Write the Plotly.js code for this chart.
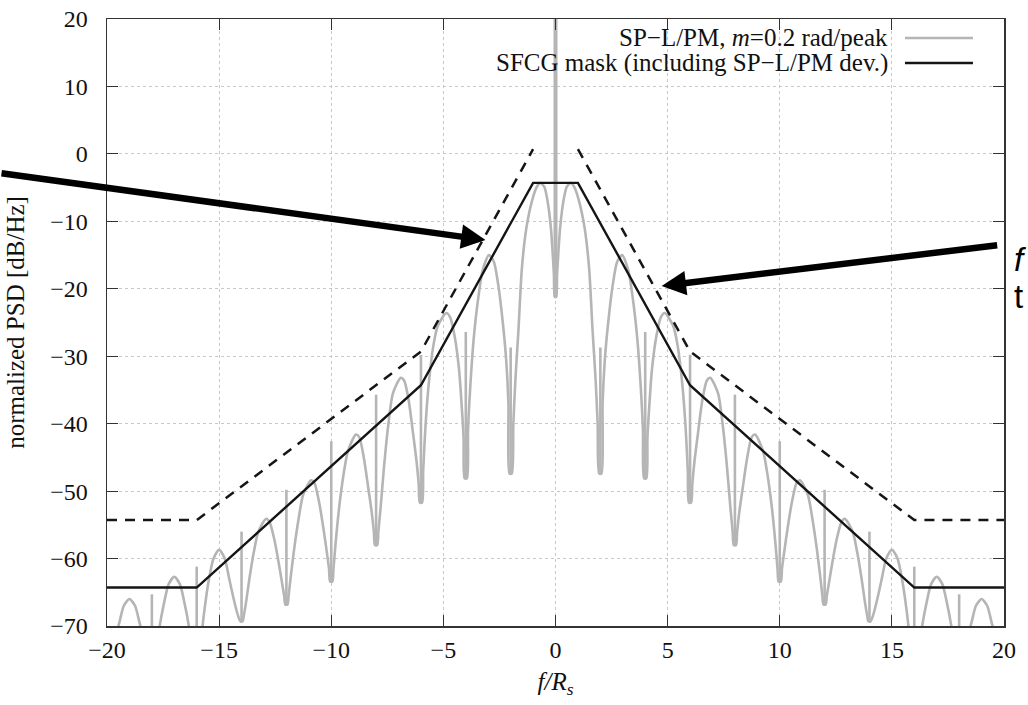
<!DOCTYPE html>
<html>
<head>
<meta charset="utf-8">
<script src="https://cdn.plot.ly/plotly-3.0.1.min.js"></script>
<style>
html,body{margin:0;padding:0;background:#fff;}
#chart{width:1028px;height:705px;}
#chart .xtick text, #chart .ytick text {font-family: 'Liberation Serif', serif !important;}
</style>
</head>
<body>
<div id="chart"></div>
<script>
// ---- data ----
// SP-L/PM PSD (grey), continuous part
var psdX = [
  -19.95,-19.9,-19.8,-19.65,-19.45,-19.25,-19.0,-18.75,-18.55,-18.35,-18.2,-18.1,-18.05,
  -17.95,-17.9,-17.8,-17.65,-17.45,-17.25,-17.0,-16.75,-16.55,-16.35,-16.2,-16.1,-16.05,
  -15.95,-15.9,-15.8,-15.65,-15.45,-15.25,-15.0,-14.75,-14.55,-14.35,-14.2,-14.1,-14.05,
  -13.95,-13.9,-13.8,-13.65,-13.45,-13.25,-12.9,-12.75,-12.55,-12.35,-12.2,-12.1,-12.05,
  -11.95,-11.9,-11.8,-11.65,-11.45,-11.25,-10.9,-10.75,-10.55,-10.35,-10.2,-10.1,-10.05,
  -9.95,-9.9,-9.8,-9.65,-9.45,-9.25,-8.9,-8.75,-8.55,-8.35,-8.2,-8.1,-8.05,
  -7.95,-7.9,-7.8,-7.65,-7.45,-7.25,-6.9,-6.75,-6.55,-6.35,-6.2,-6.1,-6.05,
  -5.95,-5.9,-5.8,-5.65,-5.45,-5.25,-4.87,-4.7,-4.5,-4.3,-4.2,-4.1,-4.05,
  -3.95,-3.9,-3.8,-3.65,-3.45,-3.25,-2.97,-2.75,-2.55,-2.35,-2.2,-2.1,-2.05,
  -1.95,-1.88,-1.78,-1.65,-1.5,-1.3,-1.05,-0.85,-0.68,-0.5,-0.38,-0.28,-0.2,-0.13,-0.07,-0.03,
  0.03,0.07,0.13,0.2,0.28,0.38,0.5,0.68,0.85,1.05,1.3,1.5,1.65,1.78,1.88,1.95,
  2.05,2.1,2.2,2.35,2.55,2.75,2.97,3.25,3.45,3.65,3.8,3.9,3.95,
  4.05,4.1,4.2,4.3,4.5,4.7,4.87,5.25,5.45,5.65,5.8,5.9,5.95,
  6.05,6.1,6.2,6.35,6.55,6.75,6.9,7.25,7.45,7.65,7.8,7.9,7.95,
  8.05,8.1,8.2,8.35,8.55,8.75,8.9,9.25,9.45,9.65,9.8,9.9,9.95,
  10.05,10.1,10.2,10.35,10.55,10.75,10.9,11.25,11.45,11.65,11.8,11.9,11.95,
  12.05,12.1,12.2,12.35,12.55,12.75,12.9,13.25,13.45,13.65,13.8,13.9,13.95,
  14.05,14.1,14.2,14.35,14.55,14.75,15.0,15.25,15.45,15.65,15.8,15.9,15.95,
  16.05,16.1,16.2,16.35,16.55,16.75,17.0,17.25,17.45,17.65,17.8,17.9,17.95,
  18.05,18.1,18.2,18.35,18.55,18.75,19.0,19.25,19.45,19.65,19.8,19.9,19.95
];
var psdY = [
  -80,-79,-76,-72,-69.5,-67,-66.0,-67,-69.5,-72,-76,-79,-80,
  -78,-77,-74,-70,-66.5,-63.8,-62.7,-63.8,-66.5,-70,-74,-77,-78,
  -78,-76,-72,-67.5,-63,-60,-58.7,-60,-63,-66,-68,-69,-69.3,
  -69.3,-68.5,-66.5,-63,-59,-56,-54.1,-54.6,-57,-60.5,-63.5,-65.5,-66.8,
  -66.8,-65.5,-62.5,-58.5,-54,-50.5,-48.4,-48.8,-51.5,-55.5,-59,-61.5,-63.4,
  -63.4,-61.5,-57.5,-52.5,-47.5,-44,-41.6,-42,-45,-49.5,-53,-56,-58,
  -58,-56,-52.5,-46.5,-40,-35.5,-33.2,-33.6,-36.5,-41.5,-45.5,-49,-51.7,
  -51.7,-47,-40.5,-34,-28.5,-25.5,-23.6,-24.2,-27,-32,-36.5,-42,-48.1,
  -48.1,-41,-34.5,-27.5,-21.5,-17.3,-15,-16,-19.5,-25,-30.5,-37,-47.4,
  -47.4,-40,-33,-26,-17,-11,-7,-5,-4.3,-4.9,-6.5,-8.7,-11.2,-14.5,-18,-21.2,
  -21.2,-18,-14.5,-11.2,-8.7,-6.5,-4.9,-4.3,-5,-7,-11,-17,-26,-33,-40,-47.4,
  -47.4,-37,-30.5,-25,-19.5,-16,-15,-17.3,-21.5,-27.5,-34.5,-41,-48.1,
  -48.1,-42,-36.5,-32,-27,-24.2,-23.6,-25.5,-28.5,-34,-40.5,-47,-51.7,
  -51.7,-49,-45.5,-41.5,-36.5,-33.6,-33.2,-35.5,-40,-46.5,-52.5,-56,-58,
  -58,-56,-53,-49.5,-45,-42,-41.6,-44,-47.5,-52.5,-57.5,-61.5,-63.4,
  -63.4,-61.5,-59,-55.5,-51.5,-48.8,-48.4,-50.5,-54,-58.5,-62.5,-65.5,-66.8,
  -66.8,-65.5,-63.5,-60.5,-57,-54.6,-54.1,-56,-59,-63,-66.5,-68.5,-69.3,
  -69.3,-69,-68,-66,-63,-60,-58.7,-60,-63,-67.5,-72,-76,-78,
  -78,-77,-74,-70,-66.5,-63.8,-62.7,-63.8,-66.5,-70,-74,-77,-78,
  -80,-79,-76,-72,-69.5,-67,-66.0,-67,-69.5,-72,-76,-79,-80
];
// discrete spectral lines (spikes) of the PSD
var spikePos  = [-18,-16,-14,-12,-10,-8,-6,-4,-2,2,4,6,8,10,12,14,16,18];
var spikeBase = [-80,-78,-69.3,-66.8,-63.4,-58,-51.7,-48.1,-47.4,-47.4,-48.1,-51.7,-58,-63.4,-66.8,-69.3,-78,-80];
var spikeTop  = [-65.3,-61.2,-56,-49.8,-42.6,-35.7,-29.8,-26.4,-28.7,-28.7,-26.4,-29.8,-35.7,-42.6,-49.8,-56,-61.2,-65.3];
var carrierPos = [0];
var carrierBase = [-21.2];
var carrierTop = [30];

// SFCG mask (solid)
var maskX = [-20,-16,-6,-1,1,6,16,20];
var maskY = [-64.3,-64.3,-34.3,-4.3,-4.3,-34.3,-64.3,-64.3];
// mask incl. deviation (dashed)
var devX = [-20,-16,-6,-1,null,1,6,16,20];
var devY = [-54.3,-54.3,-29.3,0.7,null,0.7,-29.3,-54.3,-54.3];

var xTickVals = [-20,-15,-10,-5,0,5,10,15,20];
var yTickVals = [-70,-60,-50,-40,-30,-20,-10,0,10,20];
var legendLabels = ['SP\u2212L/PM, <i>m</i>=0.2 rad/peak', 'SFCG mask (including SP\u2212L/PM dev.)'];
var xTitle = '<i>f/R<sub>s</sub></i>';
var yTitle = 'normalized PSD [dB/Hz]';

// ---- build traces ----
function segs(pos, base, top) {
  var xs = [], ys = [];
  for (var i = 0; i < pos.length; i++) {
    xs.push(pos[i], pos[i], null);
    ys.push(base[i], top[i], null);
  }
  return {x: xs, y: ys};
}
var GREY = '#b5b5b5';
var BLACK = '#151515';
var SERIF = 'Liberation Serif';
var sp = segs(spikePos, spikeBase, spikeTop);
var cp = segs(carrierPos, carrierBase, carrierTop);

var traces = [
  {x: psdX, y: psdY, type: 'scatter', mode: 'lines', line: {color: GREY, width: 2.6, shape: 'spline', smoothing: 0.7}, showlegend: false, hoverinfo: 'skip'},
  {x: sp.x, y: sp.y, type: 'scatter', mode: 'lines', line: {color: GREY, width: 2.6}, showlegend: false, hoverinfo: 'skip'},
  {x: cp.x, y: cp.y, type: 'scatter', mode: 'lines', line: {color: GREY, width: 4}, showlegend: false, hoverinfo: 'skip'},
  {x: devX, y: devY, type: 'scatter', mode: 'lines', line: {color: BLACK, width: 2.5, dash: '10px,8px'}, connectgaps: false, showlegend: false, hoverinfo: 'skip'},
  {x: maskX, y: maskY, type: 'scatter', mode: 'lines', line: {color: BLACK, width: 2.4}, showlegend: false, hoverinfo: 'skip'}
];

function axisCommon() {
  return {
    showline: true, linecolor: '#333', linewidth: 1.5, mirror: 'ticks',
    ticks: 'inside', ticklen: 11, tickwidth: 1.2, tickcolor: '#333',
    showgrid: true, gridcolor: '#c8c8c8', griddash: 'dot', gridwidth: 1,
    zeroline: false, fixedrange: true, tickmode: 'array',
    tickfont: {family: SERIF, size: 24, color: '#111'}
  };
}

var layout = {
  width: 1028, height: 705,
  margin: {l: 107, r: 24, t: 19, b: 79},
  paper_bgcolor: '#fff', plot_bgcolor: '#fff',
  font: {family: SERIF, size: 24, color: '#111'},
  showlegend: false,
  xaxis: Object.assign(axisCommon(), {
    range: [-20, 20], tickvals: xTickVals, ticklabelstandoff: 2,
    title: {text: xTitle, font: {family: SERIF, size: 25, color: '#111'}, standoff: 10}
  }),
  yaxis: Object.assign(axisCommon(), {
    range: [-70, 20], tickvals: yTickVals, ticklabelstandoff: 13,
    title: {text: yTitle, font: {family: SERIF, size: 25, color: '#111'}, standoff: 18}
  }),
  shapes: [
    // legend box (opaque, hides the grid only)
    {type: 'rect', xref: 'paper', yref: 'paper', x0: 0.299, x1: 1, y0: 0.822, y1: 1, fillcolor: '#fff', line: {width: 0}, layer: 'between'},
    // legend samples
    {type: 'line', xref: 'paper', yref: 'paper', x0: 0.8896, x1: 0.9654, y0: 0.9687, y1: 0.9687, line: {color: GREY, width: 2.6}},
    {type: 'line', xref: 'paper', yref: 'paper', x0: 0.8896, x1: 0.9654, y0: 0.9275, y1: 0.9275, line: {color: BLACK, width: 2.4}}
  ],
  annotations: [
    {xref: 'paper', yref: 'paper', x: 0.873, y: 0.9687, xanchor: 'right', yanchor: 'middle', showarrow: false,
     text: legendLabels[0], font: {family: SERIF, size: 25, color: '#111'}},
    {xref: 'paper', yref: 'paper', x: 0.873, y: 0.9275, xanchor: 'right', yanchor: 'middle', showarrow: false,
     text: legendLabels[1], font: {family: SERIF, size: 25, color: '#111'}},
    // pointer arrows overlaid on the figure
    {x: -3.12, y: -12.77, xref: 'x', yref: 'y', ax: -487, ay: -67, axref: 'pixel', ayref: 'pixel', text: '',
     showarrow: true, arrowhead: 2, arrowsize: 0.75, arrowwidth: 6.5, arrowcolor: '#000', standoff: 0},
    {x: 4.735, y: -19.59, xref: 'x', yref: 'y', ax: 337, ay: -41, axref: 'pixel', ayref: 'pixel', text: '',
     showarrow: true, arrowhead: 2, arrowsize: 0.75, arrowwidth: 6.5, arrowcolor: '#000', standoff: 0},
    {xref: 'paper', yref: 'paper', x: 1.009, y: 0.604, xanchor: 'left', yanchor: 'middle', showarrow: false,
     text: '<i>f</i>', font: {family: 'Liberation Sans', size: 33, color: '#000'}},
    {xref: 'paper', yref: 'paper', x: 1.009, y: 0.543, xanchor: 'left', yanchor: 'middle', showarrow: false,
     text: 't', font: {family: 'Liberation Sans', size: 33, color: '#000'}}
  ]
};

Plotly.newPlot('chart', traces, layout, {displayModeBar: false, staticPlot: true});
</script>
</body>
</html>
